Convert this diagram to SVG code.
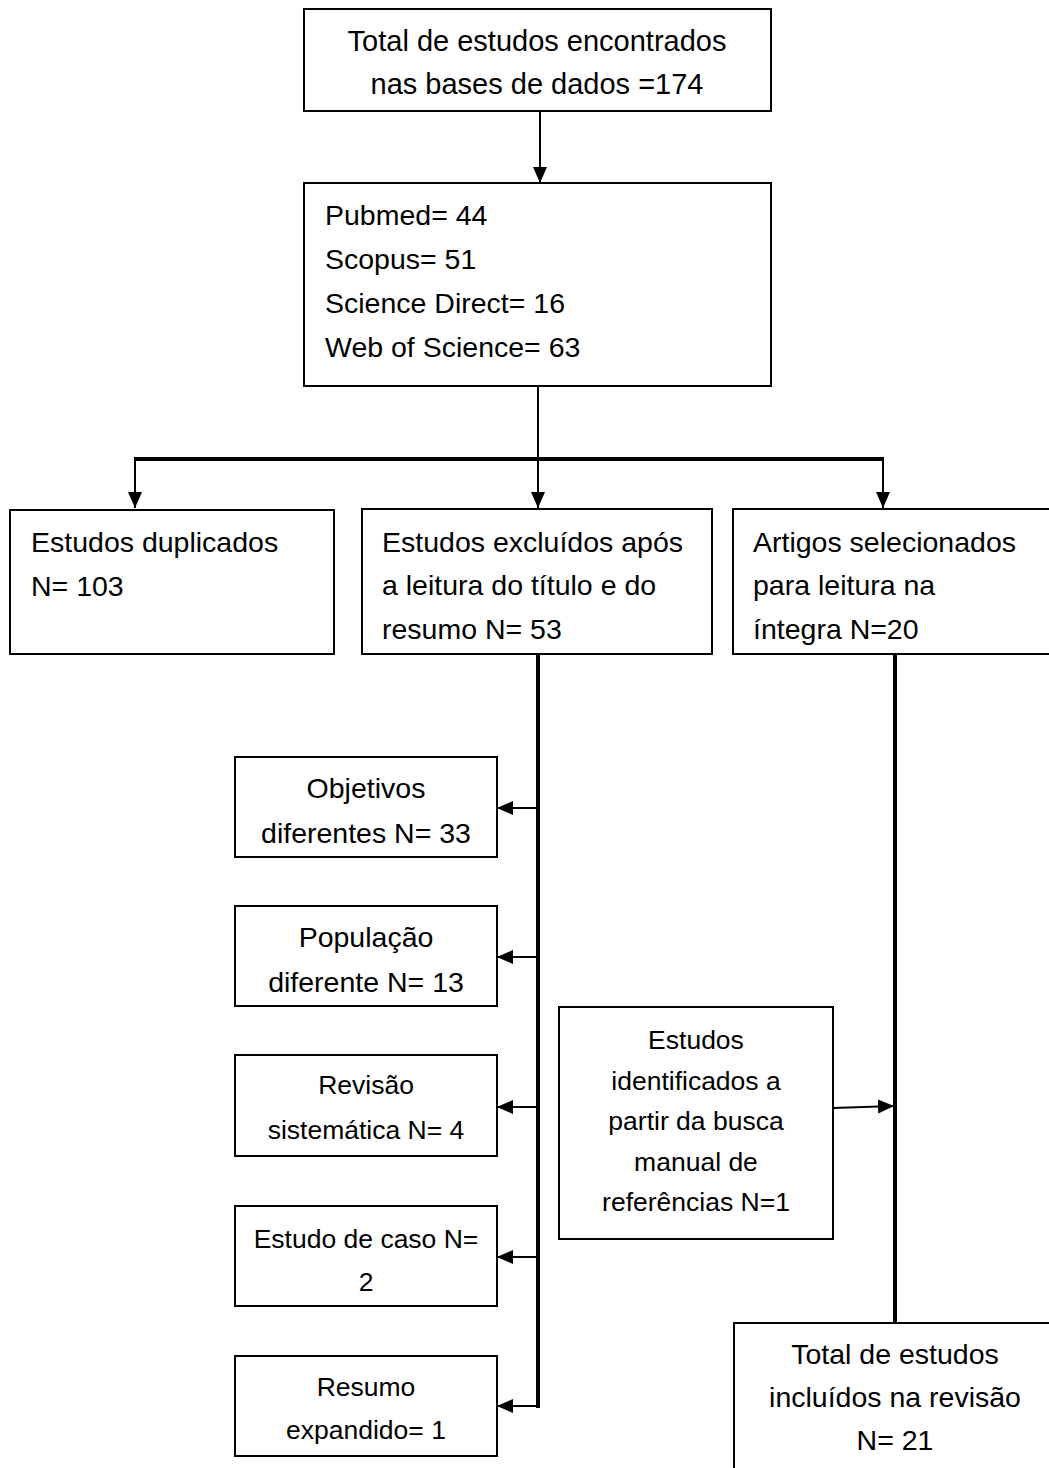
<svg xmlns="http://www.w3.org/2000/svg" width="1049" height="1468" viewBox="0 0 1049 1468">
<style>
  .box{fill:#fff;stroke:#000;stroke-width:2}
  .t{font-family:"Liberation Sans",Arial,sans-serif;font-size:28.5px;fill:#000}
  .s{font-family:"Liberation Sans",Arial,sans-serif;font-size:26.5px;fill:#000}
  .c{text-anchor:middle}
  .ln{stroke:#000;stroke-width:2;fill:none}
  .thick{stroke:#000;stroke-width:4;fill:none}
</style>
<defs>
  <marker id="ah" markerUnits="userSpaceOnUse" markerWidth="16" markerHeight="14" refX="16" refY="7" orient="auto">
    <path d="M0,0 L16,7 L0,14 z" fill="#000"/>
  </marker>
</defs>
<rect width="1049" height="1468" fill="#fff"/>
<g id="connectors">
  <line class="ln" x1="540" y1="111" x2="540" y2="183" marker-end="url(#ah)"/>
  <line class="ln" x1="538" y1="386" x2="538" y2="459"/>
  <line class="thick" x1="134" y1="459" x2="884" y2="459"/>
  <line class="ln" x1="135" y1="459" x2="135" y2="508" marker-end="url(#ah)"/>
  <line class="ln" x1="538" y1="459" x2="538" y2="508" marker-end="url(#ah)"/>
  <line class="ln" x1="883" y1="459" x2="883" y2="508" marker-end="url(#ah)"/>
  <polyline class="thick" points="538,654 538,1406 536,1406"/>
  <line class="ln" x1="538" y1="808" x2="497" y2="808" marker-end="url(#ah)"/>
  <line class="ln" x1="538" y1="957" x2="497" y2="957" marker-end="url(#ah)"/>
  <line class="ln" x1="538" y1="1107" x2="497" y2="1107" marker-end="url(#ah)"/>
  <line class="ln" x1="538" y1="1257" x2="497" y2="1257" marker-end="url(#ah)"/>
  <line class="ln" x1="538" y1="1406" x2="497" y2="1406" marker-end="url(#ah)"/>
  <line class="thick" x1="895" y1="654" x2="895" y2="1323"/>
  <line class="ln" x1="833" y1="1108" x2="894" y2="1106" marker-end="url(#ah)"/>
</g>
<g id="n-total">
  <rect class="box" x="304" y="9" width="467" height="102"/>
  <text class="t c" x="537" y="51" style="font-size:29px">Total de estudos encontrados</text>
  <text class="t c" x="537" y="94" style="font-size:29px">nas bases de dados =174</text>
</g>
<g id="n-bases">
  <rect class="box" x="304" y="183" width="467" height="203"/>
  <text class="t" x="325" y="225">Pubmed= 44</text>
  <text class="t" x="325" y="269">Scopus= 51</text>
  <text class="t" x="325" y="313">Science Direct= 16</text>
  <text class="t" x="325" y="357">Web of Science= 63</text>
</g>
<g id="n-duplicados">
  <rect class="box" x="10" y="510" width="324" height="144"/>
  <text class="t" x="31" y="552">Estudos duplicados</text>
  <text class="t" x="31" y="596">N= 103</text>
</g>
<g id="n-excluidos">
  <rect class="box" x="362" y="509" width="350" height="145"/>
  <text class="t" x="382" y="552">Estudos excluídos após</text>
  <text class="t" x="382" y="595">a leitura do título e do</text>
  <text class="t" x="382" y="639">resumo N= 53</text>
</g>
<g id="n-selecionados">
  <rect class="box" x="733" y="509" width="330" height="145"/>
  <text class="t" x="753" y="552">Artigos selecionados</text>
  <text class="t" x="753" y="595">para leitura na</text>
  <text class="t" x="753" y="639">íntegra N=20</text>
</g>
<g id="n-objetivos">
  <rect class="box" x="235" y="757" width="262" height="100"/>
  <text class="t c" x="366" y="798">Objetivos</text>
  <text class="t c" x="366" y="843">diferentes N= 33</text>
</g>
<g id="n-populacao">
  <rect class="box" x="235" y="906" width="262" height="100"/>
  <text class="t c" x="366" y="947">População</text>
  <text class="t c" x="366" y="992">diferente N= 13</text>
</g>
<g id="n-revisao">
  <rect class="box" x="235" y="1055" width="262" height="101"/>
  <text class="s c" x="366" y="1094">Revisão</text>
  <text class="s c" x="366" y="1139">sistemática N= 4</text>
</g>
<g id="n-caso">
  <rect class="box" x="235" y="1206" width="262" height="100"/>
  <text class="s c" x="366" y="1248">Estudo de caso N=</text>
  <text class="s c" x="366" y="1291">2</text>
</g>
<g id="n-resumo">
  <rect class="box" x="235" y="1356" width="262" height="100"/>
  <text class="s c" x="366" y="1396">Resumo</text>
  <text class="s c" x="366" y="1439">expandido= 1</text>
</g>
<g id="n-manual">
  <rect class="box" x="559" y="1007" width="274" height="232"/>
  <text class="s c" x="696" y="1049">Estudos</text>
  <text class="s c" x="696" y="1090">identificados a</text>
  <text class="s c" x="696" y="1130">partir da busca</text>
  <text class="s c" x="696" y="1171">manual de</text>
  <text class="s c" x="696" y="1211">referências N=1</text>
</g>
<g id="n-incluidos">
  <rect class="box" x="734" y="1323" width="330" height="160"/>
  <text class="t c" x="895" y="1364">Total de estudos</text>
  <text class="t c" x="895" y="1407">incluídos na revisão</text>
  <text class="t c" x="895" y="1450">N= 21</text>
</g>
</svg>
